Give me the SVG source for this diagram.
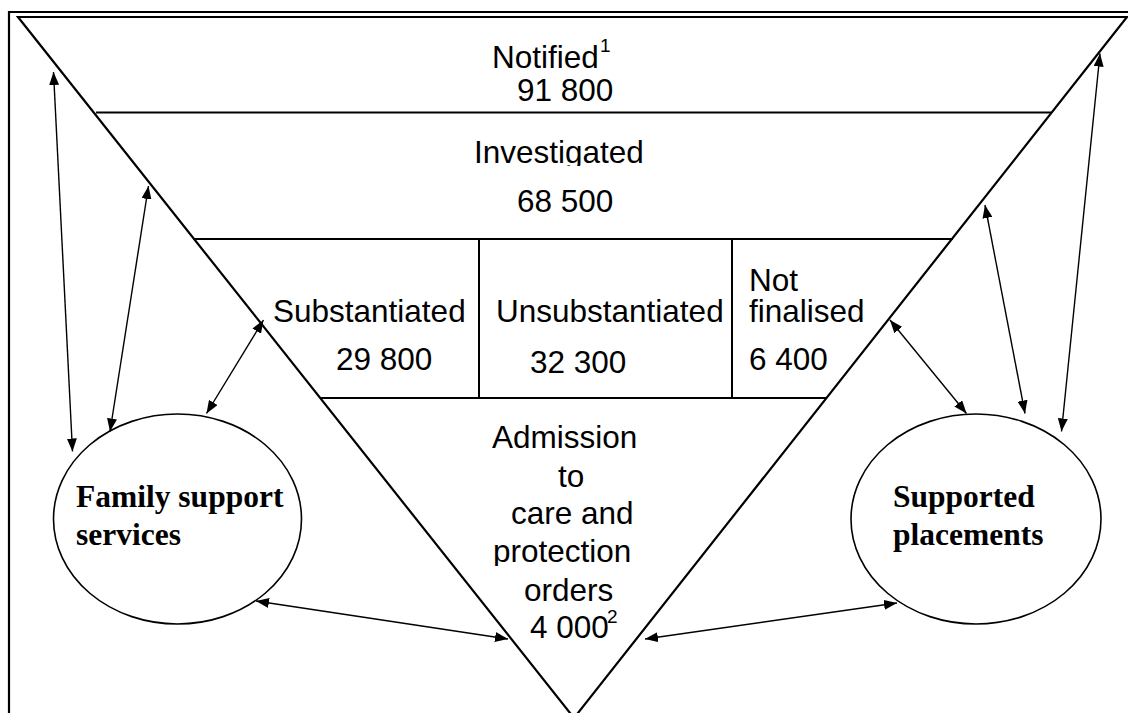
<svg xmlns="http://www.w3.org/2000/svg" width="1128" height="713" viewBox="0 0 1128 713">
<style>
.frame{stroke:#000;stroke-width:2.2;fill:none}
.tri{stroke:#000;stroke-width:2.2;fill:none;stroke-linejoin:miter}
.div{stroke:#000;stroke-width:2;fill:none}
.circ{stroke:#000;stroke-width:1.6;fill:#fff}
.arr{stroke:#000;stroke-width:1.4;fill:none;marker-start:url(#ah);marker-end:url(#ah)}
.t{font-family:"Liberation Sans",Arial,sans-serif;font-size:31.5px;fill:#000}
.sup{font-family:"Liberation Sans",Arial,sans-serif;font-size:19px;fill:#000}
.b{font-family:"Liberation Serif","Times New Roman",serif;font-weight:bold;font-size:31.5px;fill:#000}
</style>
<defs>
<marker id="ah" viewBox="0 0 13 10" refX="13" refY="5" markerWidth="13" markerHeight="10" markerUnits="userSpaceOnUse" orient="auto-start-reverse">
<path d="M0,0 L13,5 L0,10 z" fill="#000"/>
</marker>
<clipPath id="clipInv"><rect x="400" y="120" width="300" height="46"/></clipPath>
<clipPath id="clipProt"><rect x="460" y="530" width="220" height="36"/></clipPath>
</defs>
<rect width="1128" height="713" fill="#fff"/>
<g id="frame">
<polyline class="frame" points="9,713 9,12 1128,12"/>
</g>
<g id="funnel">
<polygon class="tri" points="18,17 1127,17 574,718"/>
<line class="div" x1="96" y1="112.5" x2="1051" y2="112.5"/>
<line class="div" x1="193" y1="239" x2="953" y2="239"/>
<line class="div" x1="320" y1="398" x2="827" y2="398"/>
<line class="div" x1="479" y1="239" x2="479" y2="398"/>
<line class="div" x1="732" y1="239" x2="732" y2="398"/>
</g>
<g id="notified">
<text class="t" x="492" y="68">Notified</text>
<text class="sup" x="600" y="52">1</text>
<text class="t" x="517" y="101">91 800</text>
</g>
<g id="investigated">
<text class="t" x="474" y="163" clip-path="url(#clipInv)">Investigated</text>
<text class="t" x="517" y="212">68 500</text>
</g>
<g id="substantiated">
<text class="t" x="273" y="322">Substantiated</text>
<text class="t" x="336" y="370">29 800</text>
</g>
<g id="unsubstantiated">
<text class="t" x="496" y="322">Unsubstantiated</text>
<text class="t" x="530" y="373">32 300</text>
</g>
<g id="not-finalised">
<text class="t" x="749" y="291">Not</text>
<text class="t" x="749" y="322">finalised</text>
<text class="t" x="749" y="370">6 400</text>
</g>
<g id="admission">
<text class="t" x="492" y="448">Admission</text>
<text class="t" x="558" y="487">to</text>
<text class="t" x="511" y="524">care and</text>
<text class="t" x="493" y="562" clip-path="url(#clipProt)">protection</text>
<text class="t" x="524" y="601">orders</text>
<text class="t" x="530" y="638">4 000</text>
<text class="sup" x="607" y="623">2</text>
</g>
<g id="family-support-services">
<ellipse class="circ" cx="177.5" cy="519" rx="124" ry="105"/>
<text class="b" x="76" y="507">Family support</text>
<text class="b" x="76" y="545">services</text>
</g>
<g id="supported-placements">
<ellipse class="circ" cx="976" cy="519" rx="125" ry="105"/>
<text class="b" x="893" y="507">Supported</text>
<text class="b" x="893" y="545">placements</text>
</g>
<g id="connectors">
<line class="arr" x1="53.5" y1="72" x2="72.5" y2="451.5"/>
<line class="arr" x1="148.5" y1="186" x2="110" y2="431.5"/>
<line class="arr" x1="263.5" y1="320" x2="206.5" y2="413.5"/>
<line class="arr" x1="256" y1="601" x2="508" y2="639"/>
<line class="arr" x1="645" y1="639" x2="897" y2="603"/>
<line class="arr" x1="890" y1="320" x2="966.5" y2="413.5"/>
<line class="arr" x1="985" y1="205" x2="1025" y2="413.5"/>
<line class="arr" x1="1100" y1="53.5" x2="1061.5" y2="431.5"/>
</g>
</svg>
